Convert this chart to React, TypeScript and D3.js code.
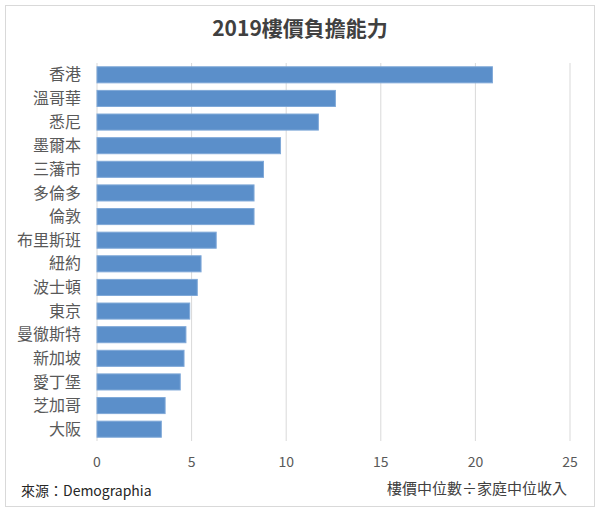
import React from "react";
import * as d3 from "d3";

const cities = ["香港", "溫哥華", "悉尼", "墨爾本", "三藩市", "多倫多", "倫敦", "布里斯班", "紐約", "波士頓", "東京", "曼徹斯特", "新加坡", "愛丁堡", "芝加哥", "大阪"];
const values = [20.9, 12.6, 11.7, 9.7, 8.8, 8.3, 8.3, 6.3, 5.5, 5.3, 4.9, 4.7, 4.6, 4.4, 3.6, 3.4];
const xTicks = [0, 5, 10, 15, 20, 25];
const title = "2019樓價負擔能力";
const sourceText = "來源：Demographia";
const axisTitle = "樓價中位數÷家庭中位收入";

const W = 600, H = 512;
const left = 97, right = 570, top = 63, bottom = 441;
const font = "'Noto Sans CJK TC', 'Noto Sans', sans-serif";

export default function App() {
  const x = d3.scaleLinear().domain([0, 25]).range([left, right]);
  const y = d3.scaleBand<string>().domain(cities).range([top, bottom]).paddingInner(0.32).paddingOuter(0.16);
  return (
    <svg width={W} height={H} style={{ position: "absolute", left: 0, top: 0, background: "#fff" }} fontFamily={font}>
      <rect x={5.5} y={5.5} width={589} height={501} fill="#fff" stroke="#d9d9d9" />
      <text x={300} y={36} textAnchor="middle" fontSize={21} fontWeight="bold" fill="#404040">{title}</text>
      {xTicks.map(t => (
        <g key={t}>
          <line x1={x(t)} x2={x(t)} y1={top} y2={bottom} stroke="#d9d9d9" strokeWidth={1} />
          <text x={x(t)} y={467} textAnchor="middle" fontSize={14} fill="#595959">{t}</text>
        </g>
      ))}
      {cities.map((c, i) => (
        <g key={c}>
          <rect x={x(0)} y={y(c)!} width={x(values[i]) - x(0)} height={y.bandwidth()} fill="#5b8fca" stroke="#7fa8d8" strokeWidth={1} />
          <text x={81} y={y(c)! + y.bandwidth() / 2} dy="0.35em" textAnchor="end" fontSize={16} fill="#595959">{c}</text>
        </g>
      ))}
      <text x={21} y={496} fontSize={14} fill="#262626">{sourceText}</text>
      <text x={567} y={494} textAnchor="end" fontSize={15} fill="#404040">{axisTitle}</text>
    </svg>
  );
}
